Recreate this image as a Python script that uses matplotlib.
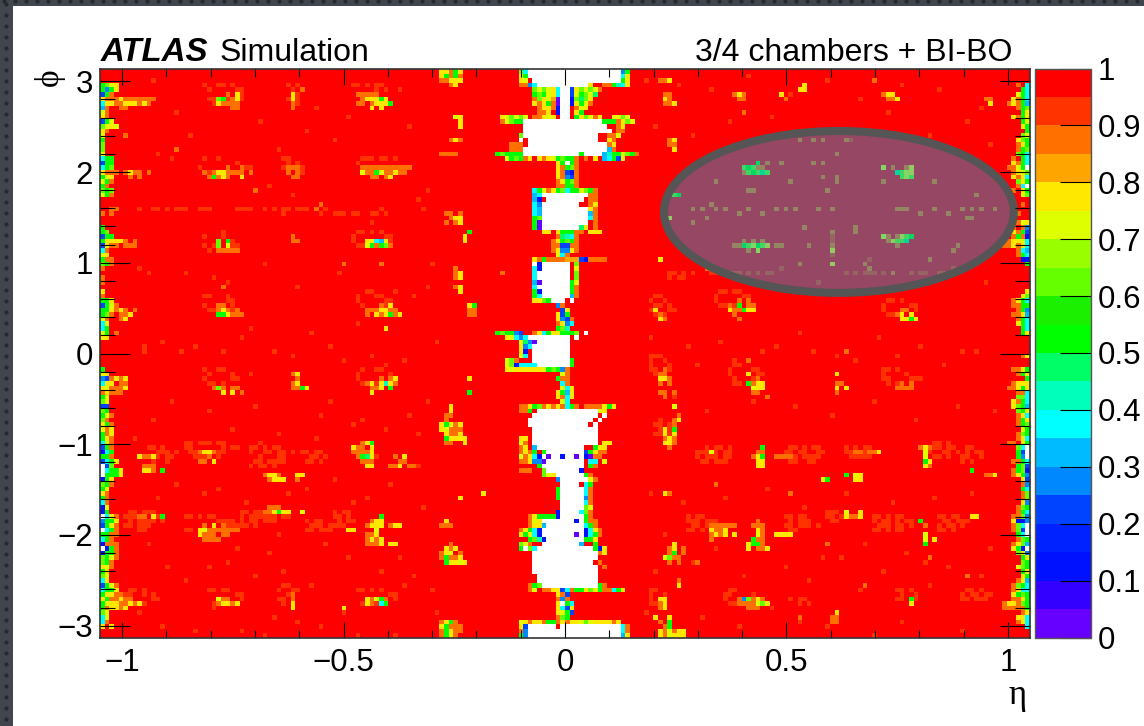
import numpy as np
import matplotlib
matplotlib.use("Agg")
import matplotlib.pyplot as plt
from matplotlib.colors import BoundaryNorm, ListedColormap
from matplotlib.patches import Ellipse, Rectangle

plt.rcParams["font.family"] = ["Liberation Sans", "DejaVu Sans"]

W, H = 1144, 726
n_eta, n_phi = 200, 124

palette = ["#6600ff", "#3300ff", "#0011ff", "#0022ff", "#0044ff", "#0088ff", "#00bbff", "#00ffff",
           "#00ffbb", "#00ff66", "#00ff00", "#1bf000", "#66ff00", "#99ff00", "#ddff00", "#ffe800",
           "#ffa500", "#ff7000", "#ff3300", "#ff0000"]

# efficiency behind each letter of the cell maps below
codes = {"o": 0.93, "O": 0.88, "y": 0.83, "Y": 0.78, "l": 0.73, "g": 0.68, "G": 0.63, "n": 0.53,
         "s": 0.48, "t": 0.43, "c": 0.38, "k": 0.33, "K": 0.28, "b": 0.23, "B": 0.13, "v": 0.03,
         "w": np.nan}

# central gap, first letter is column 84, rows from the top
centre_rows = [
    "......Gc" + "w" * 20 + "Kn", "......Yn" + "w" * 20 + "cY", "......Yl." + "w" * 19 + "nY",
    "......OOKc" + "w" * 11 + "Y..OOntcY",
    ".........GlGlYcwwbYGlGlO", ".........nGnlYcwwblnGls.", ".........OGYlyvwwBGsGY.",
    ".........YOYnOvwwBYnlO", "..........OYYOBww.OlY", "..........OOY.Bww.Yn",
    "..YlGlGl.OOYlY.ww.nYGlOY..YlGl",
    "..OlGnn" + "w" * 17 + "nnnOYGl", "......." + "w" * 18 + "..OY", "......." + "w" * 19 + ".OO",
    "......G" + "w" * 16 + "..OOl", "......w." + "w" * 15 + "..YO", "....OOO." + "w" * 17 + "OY",
    "....OOO" + "w" * 18 + "kO", ".nGnnnn" + "w" * 12 + "n" + "w" * 4 + "ktnnlGnO",
    "...lnGnOY.YOYlnGnnO.O.Y.kcnbY",
    "..............YnwnO", "..............YOnGO", "..............YObBO", "..............YOKbO",
    "..............OYnGO", "..............OOnnO", ".........cnlOYnGcnnlGnO",
    ".........kc" + "w" * 10 + "OO", ".........kB." + "w" * 8 + ".OO", ".........cK" + "w" * 8 + "..OY",
    ".........ck" + "w" * 10 + "YO", ".........ck" + "w" * 10 + "kO", ".........nG" + "w" * 10 + "cO",
    ".........nv" + "w" * 10 + ".O", ".........nv" + "w" * 8 + "sY.O",
    "...........YY.YnnnOO.YYY", "..............OstcO", ".............OYnGnO", ".............OObbOO",
    ".............OYKKYO", "..............lcO", ".........YOnOOOOyyybBOOOO",
    ".........wB" + "w" * 6 + ".G", ".........cB" + "w" * 6 + ".l", ".........cw" + "w" * 6 + ".G",
    ".........c" + "w" * 7 + ".G", ".........kv" + "w" * 6 + "nl", ".........cw" + "w" * 6 + "nO",
    ".........nB" + "w" * 6 + "nO", ".........nc" + "w" * 6 + "kO", ".........YYGnwww.w",
    "..............KO", "...............bY", "..............Ybn", "..............YKbO",
    "..............OYKc", "..............nGt", ".nGnnKb..OYcnYYnnnG.w",
    "...YlcKc" + "w" * 9 + ".w", "......lsKv" + "w" * 7 + ".", "......YKc" + "w" * 8, "......YB." + "w" * 8,
    "......lc." + "w" * 8, "...lGO..." + "w" * 8 + "n", "...lGBcccc" + "w" * 7 + "n",
    "...YlYYYYYYlnGnKO", "...............lO", "..............nOO", "...............cO",
    "...............lcY", "..............YnkY", "..............YOcY", "...............lc",
    "......OOYnGOYOYOcnO.OOOOYnY", "......OOn." + "w" * 13 + "lY", "........." + "w" * 14 + ".w",
    "........" + "w" * 14 + ".w", "........" + "w" * 13 + ".w.", "........." + "w" * 14, "........." + "w" * 14,
    "......YY." + "w" * 14, "......lO." + "w" * 14 + ".YY", "......OY.k" + "w" * 10 + "..nYY",
    "......OYOn.n" + "w" * 8 + "bnYOO", "......lOYcBwvwwBwwvwBvOO", "......OOYKKv" + "w" * 8 + ".cc.l",
    ".........." + "n" + "w" * 9 + ".nO", "......OOO..G" + "w" * 7 + "B.", "...........GlY" + "w" * 6 + "nO",
    "..............K" + "w" * 6 + "lO", "..............." + "w" * 4 + ".cn", "..............n" + "w" * 5 + "cO",
    "..............n" + "w" * 5 + "cO", "..............n" + "w" * 5 + "KO", "..............." + "w" * 5 + "cO",
    "..............." + "w" * 5 + "Gl", "..............B" + "w" * 4 + "cGO", "........OYnnnnB" + "w" * 5 + "nO",
    "........OlY" + "w" * 7 + "B" + "w" + "nOO", "........OYYk" + "w" * 8 + "cnO", "......OYncB" + "w" * 9 + "BcYO",
    "......YnlcB" + "w" * 7 + "vwBcnO", "........nGtB" + "w" * 8 + "nnY", "......GlO.." + "w" * 8 + "k..n",
    "......nwGc" + "w" * 12 + "nBY", "........." + "w" * 14 + "OY", "........." + "w" * 14, "........." + "w" * 13 + ".O",
    "........." + "w" * 14 + ".O", "........." + "w" * 14, ".........." + "w" * 13, ".........." + "w" * 13,
    "........OnG" + "w" * 12 + "nO", "........Ol.OOYYbcOnnYGlnOOcnY", "..............YOb", "..............OKO",
    "..............Ywnc", "..............YcbY", "..............Ylnb", "..............OGn",
    "......lYOYYOnnOYOYYlGlYYYYOY", "......Yb" + "w" * 6 + "." + "w" * 13 + "cO", "......OK" + "w" * 20 + "cO",
    "......nK" + "w" * 20 + "kY",
]

# six outermost columns on the left, rows from the top
left_rows = [
    "......", "......", "......", "nGlY..", "nKnY..", "bnO...", "YOOOYO", "cYYOOY", "kO..OO", "lO....",
    "YO....", "bnl...", "GlYl..", "YO....", "l.....", "n.....", "G.....", "G.....", "l.....", "cnn...",
    "bnn...", "cnG...", "YOOO.O", "nlY...", "lnO...", "nO....", "GnG...", "lnO...", "......", "......",
    "..OO..", "O.O...", "......", "......", "n.....", "nG....", "bnn...", "nYYYYO", "bYOO.O", "cO....",
    "lY....", "nOO...", "GnO...", "O.....", "......", "O.....", "O.....", "......", "Y.....", "O.....",
    "nnY...", "bnlO..", "nnYOY.", "nGO.OO", "lO..OY", "cl....", "cn....", "ln.O..", "YY....", "......",
    "......", "......", "......", "......", "......", "n.....", "lY....", "KbOY..", "cYY...", "YlOO.Y",
    "OYOOO.", "nl....", "Gl....", "bb....", "Gn....", "nlO...", "GO....", "YnO...", "lOY...", "nOY...",
    "nYO...", "clO...", "bnO...", "Bcn...", "nnO...", "bcnY..", "wbG...", "wcnnY.", "wnnnY.", "BnY...",
    "GnO...", "nl....", "YO....", "nO....", "cO....", "Bl....", "Bn....", "wcYO..", "KnnY..", "bnlO..",
    "wcnO..", "nnOO..", "cnO...", "BOOO..", "wBnO..", "BnnO..", "GnlO..", "GnO...", "YlO...", "nY....",
    "Gl....", "cY....", "bnlO..", "cnnY..", "nYYOO.", "YnOO..", "nlYYOO", "nOYYOY", "Gl....", "cl....",
    "cO....", "Y.Y...", "......", "......",
]

# six outermost columns on the right
right_rows = [
    "......", "......", "......", "...O.c", "....nc", "...lnc", "..YOnc", ".OYOnk", "...OnG", "....nY",
    "..YOnY", "....nl", "....Yn", ".....n", "....Gl", "...YGn", "...OYn", "...OnG", "...Gnc", "..O.nc",
    "..YOnc", ".OOlnw", "..OYlG", "..YOYc", "...GYn", "...Ocw", "..O.Yn", "....lG", "......", "....O.",
    "......", "...O..", "......", "...OlY", "..O.OK", "..YOnb", "..OnOB", "OOYYlc", "OOYOYc", "...Ock",
    "...Onc", "....BB", ".....n", "......", "......", "......", "......", "......", ".....Y", "....YG",
    "..OYnc", "..OOnn", "...OnK", "..OOYk", "...Onc", "...Ync", "....nc", "....nY", "......", "......",
    "......", "......", "....OY", "......", "......", "..OOYn", "...OnY", ".....n", "..OYYY", ".OOYnY",
    "...OOc", "...GGc", "..YOnc", "..YGnk", "...Gnl", "...OYc", "...OnY", "...OnG", "....ln", "...OGn",
    "...OYc", ".OO.Yn", "...Gcw", "...nbw", "...nKw", "..OOnc", "...nGb", "..OnGB", "..OYnK", "....Yb",
    "....OK", "....nc", "....OG", "....OG", "....YK", "...OGn", "...Onc", "..OOGK", "..YBBK", "..OGcw",
    "..OGbw", "...ncw", "...OGn", "..OYGk", "..YnBw", "...GYK", "....nl", "....Gn", "...lGn", "....nY",
    "....Yn", "...OYk", "..OGnc", "..OYcc", "..YnGn", "..OOYn", "OYYOGn", "OOOOOn", "....OY", "...YYc",
    "...OYc", ".....c", "......", "......",
]

# clusters of lower efficiency: column, row, cells
clusters = [
    (6, 6, "OOOOOO/YYOYO"), (25, 5, "..O.Y/Gn.OY/YOOOO/...OO"), (41, 5, "Y/Y/O/O"), (43, 4, "O"),
    (55, 5, "OOOOO/.OYYYnY/OO.OYYYn/...Y.Y"), (6, 22, "YOO.O/O.O"), (22, 21, ".....O..O/O.OYYOOOO.O/.OnOYO..Y."),
    (40, 21, "OOO/O.O/.OO"), (56, 21, "OOOOOOOOOOO/lOOnlOnOOO/..OO.O"), (3, 37, "OOO.O/..OOO"),
    (25, 37, "G.n/G.l/OOOOO"), (57, 37, "YYckY/lnOnGO"), (41, 36, "O/OO"),
    (25, 51, "OO/OYO.O/nnYOOO"), (57, 51, "...O.Y/OOOYYOO/O.YOYnOY"), (61, 56, "Y"), (76, 43, "O./OY/OY/../OY/.Y"),
    (79, 51, "Yn/OO/OO"), (3, 52, "nYO.O/.OYY"), (41, 66, "OY/.O/OY/OOnY"), (57, 67, "...O.OY/OY.YtYO/.OOY.n/.Y."),
    (24, 69, "OGO.OO/..Y.Y.O"), (79, 70, "n"), (79, 67, "Y"), (74, 73, ".Y/.Y/OO/O./lO"), (3, 67, "OOY/.OO/.OY"),
    (73, 0, "YYOnY/YnOnO/OOYYY/..OY"), (76, 10, "lY/.Y/.Y"), (73, 18, "OOOO"), (75, 15, "OYO"),
    (74, 31, "OO.O/.OYY/O.OY"), (78, 35, ".n/Y./Y."), (62, 22, "OY/Y."), (74, 77, "GlOY"),
    (73, 77, "Yn.O/YlOOO/.YOOY/.nYYYY/.OO..Y"), (62, 84, ".O.Y/..OO/OOY.OO"), (73, 98, ".Y/OOO"),
    (82, 92, "Y"), (77, 93, "Y"), (62, 99, "OYY"), (73, 103, "..O/.YOY/OYl.O/OnOOY/.nYYlY"), (62, 103, "YY"),
    (73, 120, "OYnO/YnOOO/OnYOO/OnYO"), (8, 84, "YOOY"), (9, 86, "OOO"), (9, 87, "YYO.n"),
    (21, 83, "OYYO/..O./OO.Y"), (35, 88, "OYYO/.OYYY"), (42, 88, "YY/O."), (53, 81, "...OYn/.YOO.Y/.OOOOY/..OnsY/...OOO/....YY"),
    (35, 95, ".OOO/OOYnYY"), (43, 96, "l"), (8, 97, "OO.Y.n"), (21, 99, ".O.Y.O/YlOOOOOOO/YOOO.OO/.OOOO"),
    (53, 100, "YY"), (57, 97, "...n/.OYY/OYYY/..l/OOY./OYOY/OOOY"), (3, 115, "YYOO./.OYYOY"),
    (25, 115, "lOO/OYYOY"), (41, 114, "O/O/Y/Y"), (57, 115, "YOlnO/YO.cn"), (52, 117, "Y"),
    (138, 20, "...n/GnGOO/OGnGsG"), (168, 21, "l.O..OY/...sGlY/....GlG"), (136, 37, "..O.O.O/OOnGlnGY.O/...O.l"),
    (168, 36, "lO.OYGn/.OYGGs/...O"), (157, 35, "O/o/o/O/Y/o/./Y"), (123, 27, "Gn"),
    (119, 52, "Y./.O/.YO"), (135, 50, "..O.O/O.n.OO/YOOnYY./.O.../..O"), (171, 52, ".OO/OY.Y/.YYnY"),
    (120, 65, ".O/OO/YYO/O.O/./OO.O/.O"), (138, 66, ".Y/...O/.nOYY/..lYY/..OO"), (157, 66, ".Y/./.OO/.Y.Y/.O"),
    (171, 68, ".O.O/OOOO"), (123, 73, "l/./.O/OY/O"), (121, 78, "Y.n/Y.Y/OYO/YYO/.O"), (131, 83, "l"),
    (140, 82, "..n/.OO/OYn/.YY/.YY"), (162, 83, "OO.OOY"), (176, 82, "OYO/.l./.l/.nY/.YO"), (145, 84, "OOOO"),
    (160, 88, "n.lY/..YY"), (155, 89, "Yn"), (160, 96, "l..Y/YOOY"), (121, 92, "YO"),
    (131, 99, "OOOOOO/YOOY/OYOY.Y/O"), (139, 98, "..O/.OOO/..YO/..lO/.nOO/YnnO/Y.OOY"), (145, 101, "YYYY"),
    (176, 98, "n/.O/./.l/.l.Y/.n"), (187, 87, "n"), (190, 88, "OOY"), (187, 97, "YY"),
    (121, 103, "..Y/.OY.O/.On.O/lGOO/.O.O"), (124, 111, "O/Y"), (137, 115, "OKGOYO/OOOOlGY/..OOO"),
    (120, 115, "YY/OY/OY"), (174, 115, "n/Y"), (157, 118, ".Y/OO/OO"), (119, 119, "Y..Y/.O.n/..On/.Y.n"),
    (120, 122, "YOlOYY"), (120, 123, "YOlYYY"), (120, 2, "OOY"), (121, 5, "OO/YO/OOY"),
    (122, 15, "OY/OO/.Y"), (121, 32, "OY/Y"), (150, 3, ".Y/YY"), (146, 5, "Y"), (120, 41, "Y"),
    (168, 5, "OYY/.OOY"), (136, 5, "OYO/.OO"), (190, 6, "OO/.Y"), (186, 32, "OO"),
]

# paler fringes round the clusters, laid down first
fringes = [
    (23, 3, "..oo.o/o.....oo/.......o/oo..oo.o/.o.oo"), (40, 3, "o.o/.o.o/..o/o.o/.oo"), (54, 3, "oo.o.oo/.....o.o"),
    (21, 19, ".o..o../........o/o.........oo/.oo.oo.o/...oo"), (39, 19, "oo/.o.o/o...o/.o.oo"),
    (55, 19, ".ooo.oo.o/o......../..........o/.oo.oo.oo"), (22, 36, "o...o/.....oo/o.o...oo/.o.oo"),
    (54, 35, ".oo.o.o/o......oo/o.......o/.oo.o.oo"), (8, 30, "o..oo.o.ooo...oo"), (29, 30, "oo.o..o.o.oo.ooo"),
    (47, 31, "o..ooo.oo..oo.o"), (22, 49, "oo...o/.....oo/o.....o/.oo.ooo"), (55, 48, "..oo/o...oo/o.....oo/.o...oo"),
    (22, 65, "o..oo/.o....o/o.....oo/.oo.o/..oo"), (55, 65, ".o..oo/o......o/o.......o/.oo.oo.o"),
    (10, 82, "oo.o/..ooo.o/ooo.oo/.o..o"), (18, 81, "oo.ooo.oo/o.......o.oo/.oo...ooo/..oooo.o"),
    (32, 82, "oo.o.oo/o..oo.oo.o/..o...oo/.oo.oooo/o.oo.o"), (44, 83, "o.oo/.oo.o/oo.o"),
    (5, 96, ".oo.ooo/oooo..oo/.o.oooo.o/oo.ooo/...oo"), (18, 97, "oo.o.oo/.......oooo.o/........oooo/oo....oo.o"),
    (30, 96, "oo.ooo.o/o.oooooo.oo/..oo.ooo/oo.o"), (44, 98, "o.oo/.ooo.o/oo.ooo"), (50, 96, "o.oo/oo.o/.o.oo/ooo"),
    (5, 113, ".oo.o/oo..o.o/......oo/.oo.o"), (23, 113, "oo.oo/......oo/.......o/.oo.o"),
    (38, 112, ".oo/o..oo/..o/oo/.o"), (55, 113, "oo.o.o/.......oo/........o/.oo.o"),
    (118, 49, ".oo/o..o/.oo.o/o...oo/.o.o"), (132, 48, ".oo.oo/o.....oo/o......o/.oo.oo/...o"),
    (168, 50, ".oo.o/o.....oo/o......o/.oo"), (118, 62, "oo/o..o/o...o/oo.oo/.o.o"),
    (135, 64, ".oo/o....oo/o.....oo/.o...oo/.oo.o"), (168, 65, "oo.o/o....o/oo....ooo/.o.oo"),
    (122, 44, "oo.o.o...oo/o.oo"), (135, 44, "ooo.o.o.oo"), (160, 44, "o.o.ooo.o"), (176, 44, "oo..oo.o"),
    (119, 76, ".o/oo.o/.o.o/oo.o/..oo"), (128, 82, "..o.oo.o/ooo.o.oo/o.ooo.oo/.oo.ooo"),
    (147, 82, ".oo.o.oo/oo.oo..oo/ooo.oooo/.oo..oo"), (160, 82, "o.o.oo/oo.oo.oo/.ooooo"),
    (178, 81, ".oo.o/ooo.oo/o..oo.o/.oo.o"), (185, 82, ".oo/.o.oo/oo..o/o.o"),
    (126, 97, "o.oo/ooo.ooo/.oo.oo/oo.o"), (147, 97, "oo.oo/.o.ooo/oo.ooo.o/.oo"), (156, 96, "ooo.o/oo.oo/.oo"),
    (166, 97, "oo.o.oo/o.oo.o.oo/.ooo.oo.o/oo.o.oo"), (180, 97, "oo.oo/.oo.ooo/o.oo.o/oo.o"),
    (118, 113, "oo/o..o/o..o/oo.o"), (134, 113, ".oo/o.....o/o.......o/.oo.o"), (171, 113, "oo.o/.o..o/oo.oo"),
    (185, 113, ".oo.o/o.oo.oo/oo.ooo"), (148, 115, "o.oo/..o.o"),
]

# single red-orange cells
speckle_cols = [11, 16, 19, 22, 34, 38, 46, 50, 66, 70, 12, 29, 36, 44, 53, 64, 68, 14, 21, 31, 39, 48, 60, 69, 8,
                18, 27, 35, 42, 51, 63, 71, 10, 24, 32, 45, 55, 67, 13, 20, 30, 37, 49, 58, 65, 9, 17, 26, 41, 52,
                61, 72, 15, 23, 33, 47, 56, 70, 11, 28, 38, 46, 54, 66, 7, 19, 34, 43, 59, 68, 16, 25, 40, 50, 62,
                12, 22, 31, 44, 57, 69, 10, 29, 36, 48, 64, 14, 27, 39, 53, 67, 18, 33, 45, 60, 71, 8, 24, 37, 52,
                65, 13, 30, 42, 55, 72, 20, 35, 47, 63, 9, 26, 41, 58, 70, 15, 32, 49, 61, 11, 23, 38, 54, 68,
                117, 124, 131, 139, 148, 156, 163, 172, 180, 189, 119, 127, 135, 144, 152, 161, 169, 178, 186, 191,
                122, 129, 137, 146, 154, 165, 174, 183, 190, 118, 126, 133, 142, 150, 158, 167, 176, 185, 120, 128,
                136, 145, 153, 162, 171, 181, 188, 123, 130, 140, 149, 157, 166, 175, 184, 192, 118, 125, 134, 143,
                151, 160, 170, 179, 187, 121, 132, 141, 155, 164, 173, 182, 191, 119, 127, 138, 147, 159, 168, 177,
                186, 124, 135, 152, 163, 178, 189, 117, 129, 144, 156, 172, 185, 122, 137, 150, 166, 181]
speckle_rows = [2, 9, 14, 3, 11, 17, 8, 15, 12, 26, 18, 7, 25, 13, 10, 4, 28, 30, 30, 30, 31, 30, 30, 30, 43,
                44, 46, 42, 47, 44, 48, 42, 44, 45, 56, 57, 55, 49, 59, 60, 58, 61, 60, 62, 63, 61, 61, 61, 62, 63,
                64, 59, 72, 74, 73, 75, 76, 72, 76, 78, 79, 80, 77, 75, 80, 82, 81, 83, 84, 79, 90, 91, 92, 89, 90,
                93, 92, 94, 91, 93, 95, 103, 104, 105, 103, 106, 108, 107, 109, 106, 110, 111, 110, 112, 109, 113,
                118, 117, 119, 118, 112, 121, 122, 120, 123, 118, 122, 123, 121, 123, 60, 35, 27, 33, 47, 19, 66,
                72, 78, 114, 108, 101, 94, 86,
                2, 3, 4, 1, 5, 2, 6, 3, 4, 8, 12, 14, 11, 10, 13, 15, 9, 14, 11, 16, 44, 42, 45, 43, 46, 41, 44, 43,
                46, 58, 60, 59, 61, 57, 62, 58, 60, 61, 62, 64, 63, 60, 61, 63, 62, 64, 61, 71, 74, 72, 73, 75, 72,
                76, 73, 74, 92, 94, 93, 91, 95, 92, 94, 93, 92, 101, 104, 102, 106, 103, 105, 108, 104, 109, 107,
                110, 108, 106, 109, 107, 110, 112, 114, 111, 113, 112, 110, 118, 119, 117, 121, 120, 122, 119, 121,
                120, 123]
speckle_amber = [(5, 14), (16, 17), (33, 26), (47, 29), (26, 47), (46, 30), (86, 44), (60, 42), (52, 42),
                 (147, 6), (138, 9), (166, 2), (130, 43), (160, 61), (184, 38), (139, 63), (143, 71), (156, 103),
                 (132, 90), (148, 92), (178, 106), (186, 110), (150, 119), (164, 112), (128, 107)]

# muted cells seen through the ellipse
ellipse_cols = [127, 129, 132, 134, 137, 139, 142, 145, 147, 149, 154, 157, 171, 172, 173, 176, 179, 182, 185, 187,
                189, 192, 150, 153, 155, 160, 158, 143, 146, 153, 155, 132, 148, 155, 158, 158, 168, 179, 139, 140,
                156, 162, 162, 151, 152, 146, 150, 165, 170, 183, 130, 127, 188, 131, 134, 164, 178]
ellipse_rows = [30, 30, 30, 30, 31, 30, 31, 30, 30, 30, 30, 30, 30, 30, 30, 31, 30, 31, 30, 30,
                30, 30, 15, 15, 15, 15, 18, 20, 20, 20, 20, 24, 24, 23, 23, 24, 24, 24, 26, 26,
                26, 34, 35, 34, 38, 38, 42, 43, 44, 39, 32, 33, 27, 29, 44, 42, 41]

eta_edges = np.linspace(-1.05, 1.05, n_eta + 1)
phi_edges = np.linspace(-3.135, 3.135, n_phi + 1)
eta_major = [-1, -0.5, 0, 0.5, 1]
eta_major_labels = ["\u22121", "\u22120.5", "0", "0.5", "1"]
phi_major = [-3, -2, -1, 0, 1, 2, 3]
phi_major_labels = ["\u22123", "\u22122", "\u22121", "0", "1", "2", "3"]
bar_ticks = [0, 0.1, 0.2, 0.3, 0.4, 0.5, 0.6, 0.7, 0.8, 0.9, 1]
bar_labels = ["0", "0.1", "0.2", "0.3", "0.4", "0.5", "0.6", "0.7", "0.8", "0.9", "1"]

eff = np.full((n_phi, n_eta), 0.98)


def stamp(col, row, lines):
    for i, line in enumerate(lines):
        for j, ch in enumerate(line):
            if ch != "." and row + i < n_phi and col + j < n_eta:
                eff[row + i, col + j] = codes[ch]


for c, r in zip(speckle_cols, speckle_rows):
    eff[r, c] = codes["o"]
for c, r in zip(ellipse_cols, ellipse_rows):
    eff[r, c] = codes["O"]
for c, r in speckle_amber:
    eff[r, c] = codes["O"]
for c, r, cells in fringes:
    stamp(c, r, cells.split("/"))
for c, r, cells in clusters:
    stamp(c, r, cells.split("/"))
stamp(84, 0, centre_rows)
stamp(0, 0, left_rows)
stamp(194, 0, right_rows)


def px_box(x0, y0, x1, y1):
    return [x0 / W, 1 - y1 / H, (x1 - x0) / W, (y1 - y0) / H]


fig = plt.figure(figsize=(W / 100, H / 100), dpi=100, facecolor="white")

# slide frame around the picture
frame = fig.add_axes([0, 0, 1, 1], zorder=-1)
frame.set_xlim(0, W)
frame.set_ylim(H, 0)
frame.axis("off")
frame.add_patch(Rectangle((0, 0), 13, H, color="#41454d", lw=0))
frame.add_patch(Rectangle((0, 0), W, 6, color="#41454d", lw=0))
dot_y = np.arange(4, H, 11)
dot_x = np.arange(4, W, 11)
frame.scatter(np.full(dot_y.size, 6), dot_y, s=9, color="#26292e", lw=0)
frame.scatter(dot_x, np.full(dot_x.size, 1), s=9, color="#26292e", lw=0)

ax = fig.add_axes(px_box(100, 69, 1030, 638))
cmap = ListedColormap(palette)
cmap.set_bad("white")
norm = BoundaryNorm(np.linspace(0, 1, 21), cmap.N)
mesh = ax.pcolormesh(eta_edges, phi_edges, np.ma.masked_invalid(eff[::-1]), cmap=cmap, norm=norm,
                     linewidth=0, rasterized=True, zorder=1)

ax.add_patch(Ellipse((0.6185, 1.56), 0.79, 1.784, facecolor=(0.06, 0.64, 0.89, 0.44),
                     edgecolor="#555555", lw=5.8, zorder=1.5))

ax.set_xlim(-1.05, 1.05)
ax.set_ylim(-3.135, 3.135)
ax.set_xticks(eta_major, eta_major_labels)
ax.set_xticks(np.arange(-1, 1.01, 0.1), minor=True)
ax.set_yticks(phi_major, phi_major_labels)
ax.set_yticks(np.arange(-3, 3.01, 0.2), minor=True)
ax.tick_params(axis="x", which="major", direction="in", top=True, length=11.5, width=0.8, labelsize=22.5, pad=7)
ax.tick_params(axis="x", which="minor", direction="in", top=True, length=5.8, width=0.8)
ax.tick_params(axis="y", which="major", direction="in", right=True, length=21.6, width=0.8, labelsize=22.5, pad=5)
ax.tick_params(axis="y", which="minor", direction="in", right=True, length=10.8, width=0.8)
for side in ax.spines.values():
    side.set_color("#333333")
    side.set_linewidth(1.2)

cax = fig.add_axes(px_box(1035, 68.5, 1091, 637.5))
bar = fig.colorbar(mesh, cax=cax, ticks=bar_ticks)
bar.ax.set_yticklabels(bar_labels)
bar.ax.minorticks_off()
bar.ax.tick_params(direction="in", length=22, width=0.8, labelsize=22.5, pad=5)
bar.outline.set_edgecolor("#555555")
bar.outline.set_linewidth(1)

fig.text(101 / W, 1 - 61 / H, "ATLAS", fontsize=23.8, fontweight="bold", fontstyle="italic", va="baseline")
fig.text(220 / W, 1 - 61 / H, "Simulation", fontsize=23, va="baseline")
fig.text(1012 / W, 1 - 61 / H, "3/4 chambers + BI-BO", fontsize=23, ha="right", va="baseline")
fig.text(49 / W, 1 - 77 / H, "\u03d5", fontsize=24, family=["Liberation Serif", "DejaVu Serif"], rotation=90,
         ha="center", va="center")
fig.text(1018 / W, 1 - 695 / H, "\u03b7", fontsize=25, family=["Liberation Serif", "DejaVu Serif"],
         ha="center", va="center")

fig.savefig("out.png", dpi=100)
